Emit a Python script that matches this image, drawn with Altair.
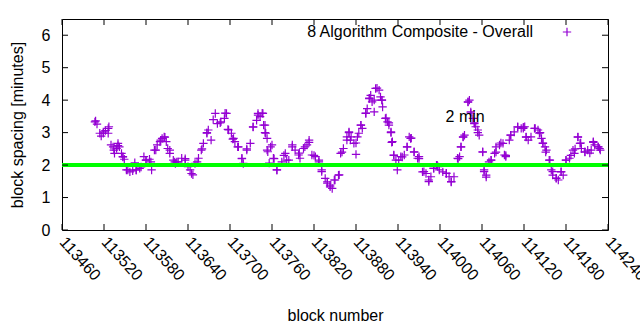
import altair as alt
import pandas as pd

# block numbers and block spacing values (minutes)
blocks = [113507, 113519, 113526, 113533, 113540, 113547, 113554, 113566, 113573, 113580,
          113587, 113594, 113601, 113607, 113614, 113621, 113626, 113636, 113643, 113647,
          113653, 113660, 113667, 113676, 113686, 113693, 113697, 113704, 113711, 113717,
          113724, 113733, 113740, 113746, 113750, 113753, 113756, 113763, 113767, 113777,
          113781, 113789, 113799, 113807, 113813, 113820, 113827, 113831, 113839, 113843,
          113849, 113856, 113860, 113867, 113870, 113880, 113887, 113894, 113899, 113906,
          113910, 113917, 113923, 113927, 113930, 113931, 113934, 113941, 113946, 113953,
          113959, 113963, 113970, 113977, 113984, 113991, 113996, 113999, 114009, 114016,
          114026, 114030, 114033, 114040, 114044, 114049, 114054, 114061, 114063, 114066,
          114073, 114080, 114087, 114094, 114101, 114111, 114119, 114123, 114136, 114143,
          114147, 114151, 114157, 114161, 114166, 114173, 114180, 114187, 114193, 114197,
          114201, 114207, 114214, 114219, 114226, 114229,
          113508, 113510, 113514, 113519, 113522, 113526, 113516, 113527, 113530, 113534,
          113538, 113540, 113542, 113535, 113545, 113547, 113549, 113552, 113557, 113561,
          113566, 113571, 113564, 113577, 113580, 113585, 113588, 113592, 113596, 113600,
          113603, 113606, 113609, 113611, 113614, 113619, 113622,
          113624, 113631, 113636, 113640, 113645, 113650, 113655, 113659, 113662, 113667,
          113669, 113673, 113679, 113682, 113687, 113692, 113695, 113698, 113702, 113705,
          113707, 113712, 113717, 113719, 113724, 113729, 113733, 113738, 113740, 113743,
          113748,
          113747, 113750, 113751, 113753, 113754, 113758, 113760, 113762, 113767, 113774,
          113779, 113784, 113789, 113793, 113798, 113800, 113805, 113810, 113813, 113817,
          113822, 113827, 113831, 113836, 113839, 113843, 113846, 113850, 113855, 113858,
          113862, 113867, 113870, 113872,
          113873, 113877, 113880, 113882, 113884, 113887, 113889, 113894, 113896, 113899,
          113901, 113903, 113906, 113908, 113913, 113915, 113917, 113918, 113922, 113925,
          113927, 113930, 113932, 113934, 113937, 113939, 113944, 113949, 113953, 113956,
          113958, 113963, 113968, 113970, 113975, 113980, 113984, 113987, 113991, 113995,
          113997, 114004, 114009, 114013, 114016, 114020, 114025, 114028, 114030, 114033,
          114035, 114040, 114042, 114044, 114047, 114049, 114051, 114054, 114056, 114061,
          114063, 114066, 114070, 114073, 114078, 114080, 114085, 114090, 114092, 114094,
          114099, 114101, 114106, 114111, 114116, 114119,
          114121, 114123, 114126, 114130, 114135, 114140, 114142, 114145, 114147, 114150,
          114152, 114156, 114159, 114161, 114166, 114169, 114173, 114176, 114180, 114185,
          114190, 114192, 114197, 114200, 114202, 114207, 114211, 114216, 114219, 114221,
          114226, 114228]
spacing = [3.33, 2.98, 3.13, 2.56, 2.60, 2.25, 1.85, 1.85, 1.94, 2.15,
           2.10, 2.46, 2.77, 2.86, 2.46, 2.10, 2.10, 2.20, 1.85, 1.70,
           2.10, 2.50, 3.00, 3.40, 3.30, 3.60, 3.10, 2.80, 2.56, 2.20,
           2.50, 3.17, 3.54, 3.60, 3.00, 2.46, 2.06, 2.20, 1.85, 2.30,
           2.15, 2.56, 2.37, 2.56, 2.70, 2.30, 2.10, 1.80, 1.48, 1.33,
           1.54, 1.70, 2.40, 2.77, 3.00, 2.68, 3.23, 3.60, 4.06, 4.00,
           4.37, 4.00, 3.45, 3.30, 3.00, 2.70, 2.30, 2.15, 2.25, 2.56,
           2.83, 2.40, 2.20, 1.80, 1.54, 1.90, 2.00, 1.85, 1.75, 1.48,
           2.20, 2.56, 2.86, 3.94, 3.60, 3.30, 3.00, 2.40, 1.80, 1.63,
           2.15, 2.40, 2.68, 2.30, 2.92, 3.17, 3.17, 2.86, 3.13, 3.00,
           2.68, 2.40, 2.15, 1.80, 1.60, 1.80, 2.15, 2.30, 2.50, 2.86,
           2.68, 2.40, 2.37, 2.70, 2.56, 2.46,
           3.36, 3.26, 2.98, 3.02, 3.06, 2.98, 2.89, 3.18, 2.62, 2.46,
           2.51, 2.67, 2.56, 2.36, 2.36, 2.26, 2.18, 1.85, 1.79, 1.82,
           1.85, 1.90, 2.07, 2.26, 2.15, 2.18, 1.85, 2.46, 2.62, 2.72,
           2.82, 2.87, 2.72, 2.51, 2.36, 2.15, 2.05,
           2.10, 2.21, 2.15, 1.95, 1.74, 2.05, 2.21, 2.46, 2.67, 2.98,
           3.08, 2.77, 3.59, 3.28, 3.33, 3.44, 3.59, 3.08, 2.98, 2.82,
           2.72, 2.56, 2.21, 2.05, 2.46, 2.67, 3.18, 3.38, 3.59, 3.49,
           3.23,
           3.59, 3.23, 2.98, 2.82, 2.41, 2.56, 2.62, 2.21, 1.85, 2.10,
           2.36, 2.15, 2.62, 2.46, 2.31, 2.21, 2.51, 2.62, 2.77, 2.31,
           2.26, 2.15, 1.85, 1.59, 1.44, 1.38, 1.28, 1.54, 1.69, 2.36,
           2.51, 2.87, 3.02, 2.77,
           2.87, 2.67, 2.33, 2.87, 2.98, 3.23, 3.13, 3.59, 3.74, 4.05,
           4.15, 3.95, 3.64, 4.36, 4.31, 4.10, 4.00, 3.79, 3.44, 3.33,
           3.23, 3.02, 2.72, 2.31, 2.15, 1.85, 2.26, 2.31, 2.56, 2.87,
           2.82, 2.41, 2.21, 2.26, 1.79, 1.74, 1.49, 1.64, 1.90, 2.00,
           1.95, 1.79, 1.74, 1.64, 1.49, 1.64, 2.21, 2.26, 2.56, 2.87,
           2.92, 3.95, 4.00, 3.64, 3.44, 3.28, 3.18, 3.08, 2.92, 2.41,
           1.85, 1.69, 2.10, 2.15, 2.36, 2.56, 2.62, 2.67, 2.31, 2.26,
           2.77, 2.92, 3.02, 3.18, 3.13, 3.13,
           3.18, 2.87, 2.77, 2.87, 3.13, 3.08, 2.98, 2.82, 2.67, 2.56,
           2.46, 2.15, 1.85, 1.69, 1.59, 1.54, 1.79, 1.69, 2.15, 2.21,
           2.46, 2.36, 2.87, 2.67, 2.51, 2.41, 2.46, 2.46, 2.72, 2.62,
           2.56, 2.51]

x_ticks = [113460, 113520, 113580, 113640, 113700, 113760, 113820, 113880,
           113940, 114000, 114060, 114120, 114180, 114240]
y_ticks = [0, 1, 2, 3, 4, 5, 6]

series_name = "8 Algorithm Composite - Overall"
ref_value = [2]
label_text = "2 min"
label_pos = [114008, 3.48]

FONT = "Liberation Sans"
W, H = 546, 211
PURPLE = "#9400D3"
PLUS = "M-1,0L1,0M0,-1L0,1"

df = pd.DataFrame({"block": blocks, "spacing": spacing})
xt = pd.DataFrame({"block": x_ticks})
yt = pd.DataFrame({"spacing": y_ticks})

xscale = alt.Scale(domain=[113460, 114240], nice=False, zero=False)
yscale = alt.Scale(domain=[0, 6.5], nice=False, zero=False)

xaxis = alt.Axis(
    values=x_ticks, format="d", title="block number", labelAngle=48,
    labelAlign="left", labelBaseline="middle", labelPadding=9,
    labelOverlap=False, labelFlush=False,
    titleY=85, titleX=W / 2, titleBaseline="middle", titleAlign="center")
yaxis = alt.Axis(
    values=y_ticks, title="block spacing [minutes]", labelPadding=12,
    titleX=-45, titleY=H / 2, titleAngle=-90, titleAlign="center",
    titleBaseline="middle")

X = alt.X("block:Q", scale=xscale, axis=xaxis)
Y = alt.Y("spacing:Q", scale=yscale, axis=yaxis)

points = alt.Chart(df).mark_point(
    shape=PLUS, filled=False, strokeWidth=1.2, size=70, color=PURPLE, opacity=1
).encode(x=X, y=Y)

green = alt.Chart(pd.DataFrame({"spacing": ref_value})).mark_rule(
    color="#00FF00", strokeWidth=4
).encode(y=Y)

lbl = alt.Chart(pd.DataFrame({"block": [label_pos[0]], "spacing": [label_pos[1]], "s": [label_text]})).mark_text(
    align="left", baseline="middle", font=FONT, fontSize=16, color="black"
).encode(x=X, y=Y, text="s:N")

leg_text = alt.Chart(pd.DataFrame({"s": [series_name]})).mark_text(
    align="right", baseline="middle", font=FONT, fontSize=16, color="black"
).encode(x=alt.value(471), y=alt.value(13), text="s:N")

leg_sym = alt.Chart(pd.DataFrame({"s": [series_name]})).mark_point(
    shape=PLUS, filled=False, strokeWidth=1.2, size=70, color=PURPLE, opacity=1
).encode(x=alt.value(505), y=alt.value(13))

tb = alt.Chart(xt).mark_rule(color="black", strokeWidth=1).encode(
    x=X, y=alt.value(H), y2=alt.value(H - 6))
tt = alt.Chart(xt).mark_rule(color="black", strokeWidth=1).encode(
    x=X, y=alt.value(0), y2=alt.value(6))
tl = alt.Chart(yt).mark_rule(color="black", strokeWidth=1).encode(
    y=Y, x=alt.value(0), x2=alt.value(6))
tr = alt.Chart(yt).mark_rule(color="black", strokeWidth=1).encode(
    y=Y, x=alt.value(W), x2=alt.value(W - 6))

chart = alt.layer(points, green, lbl, leg_text, leg_sym, tb, tt, tl, tr).properties(
    width=W, height=H,
    autosize=alt.AutoSizeParams(type="none"),
    padding={"left": 62, "top": 19, "right": 32, "bottom": 100},
    background="white",
).configure_view(
    stroke="black", strokeWidth=1
).configure_axis(
    grid=False, ticks=False, domain=False,
    labelFont=FONT, labelFontSize=16, labelColor="black",
    titleFont=FONT, titleFontSize=16, titleColor="black", titleFontWeight="normal",
)

chart.save("out.html", embed_options={"renderer": "svg", "actions": False})
